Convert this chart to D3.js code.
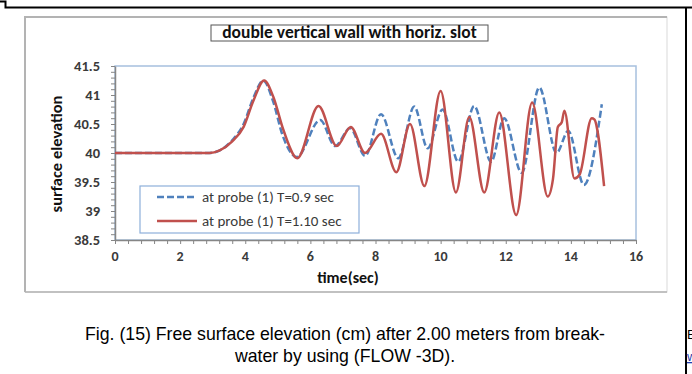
<!DOCTYPE html>
<html>
<head>
<meta charset="utf-8">
<script src="https://cdn.jsdelivr.net/npm/d3@7"></script>
<style>
  html, body { margin: 0; padding: 0; background: #fff; }
  svg { display: block; }
</style>
</head>
<body>
<div id="chart"></div>
<script>
// ---- data (time in s, surface elevation) ----
var probeT09Time = [0, 2.9, 3.2, 3.6, 3.95, 4.25, 4.55, 4.85, 5.15, 5.58, 6.3, 6.76, 7.22, 7.68, 8.17, 8.7, 9.19, 9.6, 10.06, 10.54, 11.03, 11.55, 11.95, 12.49, 13.03, 13.56, 13.92, 14.4, 14.95];
var probeT09Elev = [40, 40, 40.04, 40.22, 40.5, 40.95, 41.25, 40.9, 40.3, 39.93, 40.57, 40.12, 40.43, 39.95, 40.67, 39.91, 40.8, 40.08, 40.75, 39.85, 40.81, 39.85, 40.6, 39.66, 41.13, 40.0, 40.38, 39.45, 40.84];

var probeT110Time = [0, 2.9, 3.2, 3.6, 3.95, 4.25, 4.58, 4.86, 5.17, 5.6, 6.25, 6.81, 7.24, 7.68, 8.17, 8.64, 9.06, 9.5, 10.0, 10.47, 10.88, 11.34, 11.8, 12.32, 12.81, 13.29, 13.45, 13.6, 13.72, 13.8, 14.11, 14.27, 14.64, 14.72, 15.02];
var probeT110Elev = [40, 40, 40.04, 40.2, 40.45, 40.9, 41.25, 40.97, 40.4, 39.91, 40.81, 40.12, 40.45, 40.0, 40.33, 39.67, 40.5, 39.43, 41.07, 39.32, 40.62, 39.32, 40.7, 38.93, 40.87, 39.25, 39.55, 40.45, 40.53, 40.73, 39.56, 39.63, 40.6, 40.58, 39.43];

var seriesNames = ["at probe (1) T=0.9 sec", "at probe (1) T=1.10 sec"];
var xTickLabels = [0, 2, 4, 6, 8, 10, 12, 14, 16];
var yTickLabels = [38.5, 39, 39.5, 40, 40.5, 41, 41.5];

var chartTitle = "double vertical wall with horiz. slot";
var xTitle = "time(sec)";
var yTitle = "surface elevation";
var captionLines = ["Fig. (15) Free surface elevation (cm) after 2.00 meters from break-",
                    "water by using (FLOW -3D)."];

(function () {
  "use strict";
  var W = 692, H = 374;
  var svg = d3.select("#chart").append("svg").attr("width", W).attr("height", H);
  svg.append("rect").attr("width", W).attr("height", H).attr("fill", "#fff");

  // ---- page frame lines (document table border) ----
  svg.append("path").attr("d", "M0,1.5H5.5V7.5H692").attr("fill", "none")
    .attr("stroke", "#000").attr("stroke-width", 2);
  svg.append("line").attr("x1", 686).attr("x2", 686).attr("y1", 7).attr("y2", H)
    .attr("stroke", "#000").attr("stroke-width", 2);
  // clipped neighbour-column text, as in the scan
  svg.append("text").attr("x", 687).attr("y", 339).attr("font-family", "Liberation Sans, Arial, sans-serif")
    .attr("font-size", 13).attr("fill", "#000").text("E");
  svg.append("text").attr("x", 687).attr("y", 361).attr("font-family", "Liberation Sans, Arial, sans-serif")
    .attr("font-size", 13).attr("fill", "#1f3fb0").attr("text-decoration", "underline").text("w");

  // ---- chart area (Excel chart border) ----
  var ca = { x0: 25, y0: 17, x1: 667, y1: 292 };
  svg.append("rect").attr("x", ca.x0).attr("y", ca.y0).attr("width", ca.x1 - ca.x0).attr("height", ca.y1 - ca.y0)
    .attr("fill", "#fff").attr("stroke", "#d9d9d9").attr("stroke-width", 1);
  svg.append("path").attr("d", "M" + ca.x0 + "," + ca.y1 + "V" + ca.y0 + "H" + ca.x1)
    .attr("fill", "none").attr("stroke", "#b3b3b3").attr("stroke-width", 2);
  svg.append("line").attr("x1", ca.x0).attr("x2", ca.x1).attr("y1", ca.y1).attr("y2", ca.y1)
    .attr("stroke", "#b3b3b3").attr("stroke-width", 1.5);

  // ---- scales ----
  var x = d3.scaleLinear().domain([0, 16]).range([115, 636]);
  var y = d3.scaleLinear().domain([38.5, 41.5]).range([240, 66]);

  var calibri = "Carlito, Lato, 'Open Sans', sans-serif";

  // plot area border (light blue)
  svg.append("rect").attr("x", x(0)).attr("y", y(41.5))
    .attr("width", x(16) - x(0)).attr("height", y(38.5) - y(41.5))
    .attr("fill", "none").attr("stroke", "#a7c0de").attr("stroke-width", 1.5);

  // ---- axes ----
  var yMinor = d3.range(0, 31).map(function (i) { return 38.5 + i * 0.1; });
  var xMinor = d3.range(0, 41).map(function (i) { return i * 0.4; });

  var yAx = svg.append("g").attr("transform", "translate(" + x(0) + ",0)")
    .call(d3.axisLeft(y).tickValues(yMinor).tickFormat("").tickSize(4).tickSizeOuter(0));
  var xAx = svg.append("g").attr("transform", "translate(0," + y(38.5) + ")")
    .call(d3.axisBottom(x).tickValues(xMinor).tickFormat("").tickSize(4).tickSizeOuter(0));
  [yAx, xAx].forEach(function (a) {
    a.select(".domain").attr("stroke", "#868686").attr("stroke-width", 1.5);
    a.selectAll(".tick line").attr("stroke", "#868686");
  });

  // tick labels
  svg.append("g").selectAll("text").data(yTickLabels).enter().append("text")
    .attr("x", 100).attr("y", function (d) { return y(d); }).attr("dy", "0.35em")
    .attr("text-anchor", "end").attr("font-family", calibri).attr("font-weight", "bold")
    .attr("font-size", 14.5).attr("fill", "#3a3a3a")
    .text(function (d) { return d; });
  svg.append("g").selectAll("text").data(xTickLabels).enter().append("text")
    .attr("x", function (d) { return x(d); }).attr("y", 261)
    .attr("text-anchor", "middle").attr("font-family", calibri).attr("font-weight", "bold")
    .attr("font-size", 14).attr("fill", "#3a3a3a")
    .text(function (d) { return d; });

  // axis titles
  svg.append("text").attr("x", 348).attr("y", 283).attr("text-anchor", "middle")
    .attr("font-family", calibri).attr("font-weight", "bold").attr("font-size", 16)
    .attr("fill", "#111").text(xTitle);
  svg.append("text").attr("transform", "translate(62,154) rotate(-90)").attr("text-anchor", "middle")
    .attr("font-family", calibri).attr("font-weight", "bold").attr("font-size", 16.5)
    .attr("fill", "#111").text(yTitle);

  // chart title in a box
  svg.append("rect").attr("x", 211).attr("y", 25).attr("width", 277).attr("height", 16)
    .attr("fill", "#fff").attr("stroke", "#555").attr("stroke-width", 1);
  svg.append("text").attr("x", 349.5).attr("y", 38).attr("text-anchor", "middle")
    .attr("font-family", calibri).attr("font-weight", "bold").attr("font-size", 17.5)
    .attr("fill", "#111").text(chartTitle);

  // ---- lines ----
  var line = d3.line()
    .x(function (d) { return x(d[0]); })
    .y(function (d) { return y(d[1]); })
    .curve(d3.curveMonotoneX);

  var blueData = probeT09Time.map(function (t, i) { return [t, probeT09Elev[i]]; });
  var redData = probeT110Time.map(function (t, i) { return [t, probeT110Elev[i]]; });

  var blue = "#4f81bd", red = "#c0504d";
  svg.append("path").datum(blueData).attr("d", line).attr("fill", "none")
    .attr("stroke", blue).attr("stroke-width", 2.5).attr("stroke-dasharray", "7 3");
  svg.append("path").datum(redData).attr("d", line).attr("fill", "none")
    .attr("stroke", red).attr("stroke-width", 2.5).attr("stroke-linejoin", "round");

  // ---- legend ----
  var lg = svg.append("g");
  lg.append("rect").attr("x", 140).attr("y", 186).attr("width", 219).attr("height", 47)
    .attr("fill", "#fff").attr("stroke", "#8eb0da").attr("stroke-width", 1.2);
  var legendY = [197, 221];
  seriesNames.forEach(function (name, i) {
    lg.append("line").attr("x1", 157).attr("x2", 197).attr("y1", legendY[i]).attr("y2", legendY[i])
      .attr("stroke", i === 0 ? blue : red).attr("stroke-width", 2.5)
      .attr("stroke-dasharray", i === 0 ? "7 3" : null);
    lg.append("text").attr("x", 202).attr("y", legendY[i]).attr("dy", "0.35em")
      .attr("font-family", calibri).attr("font-size", 15).attr("fill", "#3a3a3a").text(name);
  });

  // ---- caption ----
  var cap = svg.append("g").attr("font-family", "'Liberation Sans', Arial, sans-serif")
    .attr("font-size", 17.7).attr("fill", "#000").attr("text-anchor", "middle");
  cap.append("text").attr("x", 345).attr("y", 340).text(captionLines[0]);
  cap.append("text").attr("x", 345).attr("y", 362).text(captionLines[1]);
})();
</script>
</body>
</html>
